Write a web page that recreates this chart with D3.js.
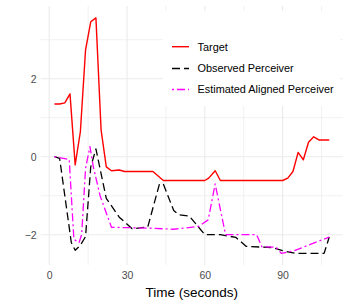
<!DOCTYPE html>
<html><head><meta charset="utf-8">
<script src="https://cdn.jsdelivr.net/npm/d3@7"></script>
<style>body{margin:0;background:#fff}svg{display:block}text{font-family:"Liberation Sans",Arial,sans-serif}</style>
</head><body>
<svg id="c" width="349" height="305"></svg>
<script>
const targetT = [2,4,6,8,10,12,14,16,18,20,22,24,27,29,40,44,60,61.5,64,66,90,92,94,96,98,100,102,104,108];
const targetV = [1.35,1.35,1.38,1.61,-0.21,0.64,2.74,3.46,3.56,0.68,-0.26,-0.36,-0.34,-0.38,-0.38,-0.61,-0.61,-0.55,-0.36,-0.61,-0.61,-0.55,-0.38,0.11,-0.08,0.37,0.51,0.43,0.43];
const observedT = [2,4,8.5,10,12,14,16,18,22,27,32,38,42.5,44,48,50,54,60,66,72,76,86,90,95,106,108];
const observedV = [0,-0.04,-2.2,-2.4,-2.27,-2.05,-0.26,0.2,-1.07,-1.55,-1.85,-1.8,-0.7,-0.7,-1.38,-1.49,-1.52,-2.0,-2.0,-2.07,-2.3,-2.33,-2.41,-2.48,-2.48,-2.06];
const estimatedT = [2,7.7,9.5,11.5,12.5,14,15.7,17,19.6,24,38,48,57.5,61.3,64,68,80,82,87.5,89.5,94.5,108];
const estimatedV = [0,-0.07,-2.12,-2.2,-2.0,-0.3,0.26,-0.26,-1.0,-1.81,-1.83,-1.86,-1.79,-1.62,-0.7,-2.0,-2.0,-2.31,-2.32,-2.48,-2.41,-2.06];
const xMajor = [0,30,60,90];
const xMinor = [15,45,75,105];
const yMajor = [-2,0,2];
const yMinor = [-1,1,3];
const seriesNames = ["Target","Observed Perceiver","Estimated Aligned Perceiver"];

const svg = d3.select("#c");
const L = 40.7, R = 343, T = 6, B = 265;
const x = d3.scaleLinear().domain([-3.3, 113.3]).range([L, R]);
const y = d3.scaleLinear().domain([-2.777, 3.864]).range([B, T]);

const g = svg.append("g");
g.selectAll(".xmin").data(xMinor).join("line").attr("x1",d=>x(d)).attr("x2",d=>x(d)).attr("y1",T).attr("y2",B).attr("stroke","#ebebeb").attr("stroke-width",0.7);
g.selectAll(".ymin").data(yMinor).join("line").attr("y1",d=>y(d)).attr("y2",d=>y(d)).attr("x1",L).attr("x2",R).attr("stroke","#ebebeb").attr("stroke-width",0.7);
g.selectAll(".xmaj").data(xMajor).join("line").attr("x1",d=>x(d)).attr("x2",d=>x(d)).attr("y1",T).attr("y2",B).attr("stroke","#ebebeb").attr("stroke-width",1.1);
g.selectAll(".ymaj").data(yMajor).join("line").attr("y1",d=>y(d)).attr("y2",d=>y(d)).attr("x1",L).attr("x2",R).attr("stroke","#ebebeb").attr("stroke-width",1.1);

const xAxis = svg.append("g").attr("transform",`translate(0,${B})`).call(d3.axisBottom(x).tickValues(xMajor).tickSize(0).tickPadding(7));
xAxis.select(".domain").remove();
xAxis.selectAll("text").attr("fill","#4d4d4d").attr("font-size","10.5px").attr("font-family","Liberation Sans, Arial, sans-serif");
const yAxis = svg.append("g").attr("transform",`translate(${L},0)`).call(d3.axisLeft(y).tickValues(yMajor).tickSize(0).tickPadding(4).tickFormat(d=>d<0?"\u2212"+Math.abs(d):d));
yAxis.select(".domain").remove();
yAxis.selectAll("text").attr("fill","#4d4d4d").attr("font-size","10.5px").attr("font-family","Liberation Sans, Arial, sans-serif");

svg.append("text").attr("x",(L+R)/2).attr("y",297).attr("text-anchor","middle").attr("font-size","13.5px").attr("fill","#000").text("Time (seconds)");

const line = d3.line().x(d=>x(d[0])).y(d=>y(d[1]));
const zip = (a,b)=>a.map((t,i)=>[t,b[i]]);
const styles = [
  {color:"#ff0000", dash:null, w:1.4},
  {color:"#000000", dash:"8,4", w:1.3},
  {color:"#ff00ff", dash:"2,3,8,3", w:1.3}
];
const data = [zip(targetT,targetV), zip(observedT,observedV), zip(estimatedT,estimatedV)];
data.forEach((d,i)=>{
  svg.append("path").attr("d",line(d)).attr("fill","none").attr("stroke",styles[i].color)
    .attr("stroke-width",styles[i].w).attr("stroke-dasharray",styles[i].dash).attr("stroke-linejoin","round");
});

const lg = svg.append("g");
lg.append("rect").attr("x",163).attr("y",11).attr("width",177).attr("height",95).attr("fill","#fff");
const ly = [46.7, 68.5, 89.5];
seriesNames.forEach((n,i)=>{
  lg.append("line").attr("x1",172).attr("x2",189).attr("y1",ly[i]).attr("y2",ly[i]).attr("stroke",styles[i].color)
    .attr("stroke-width",styles[i].w).attr("stroke-dasharray",styles[i].dash);
  lg.append("text").attr("x",197.5).attr("y",ly[i]+3.9).attr("font-size","10.9px").attr("fill","#000").text(n);
});
</script>
</body></html>
